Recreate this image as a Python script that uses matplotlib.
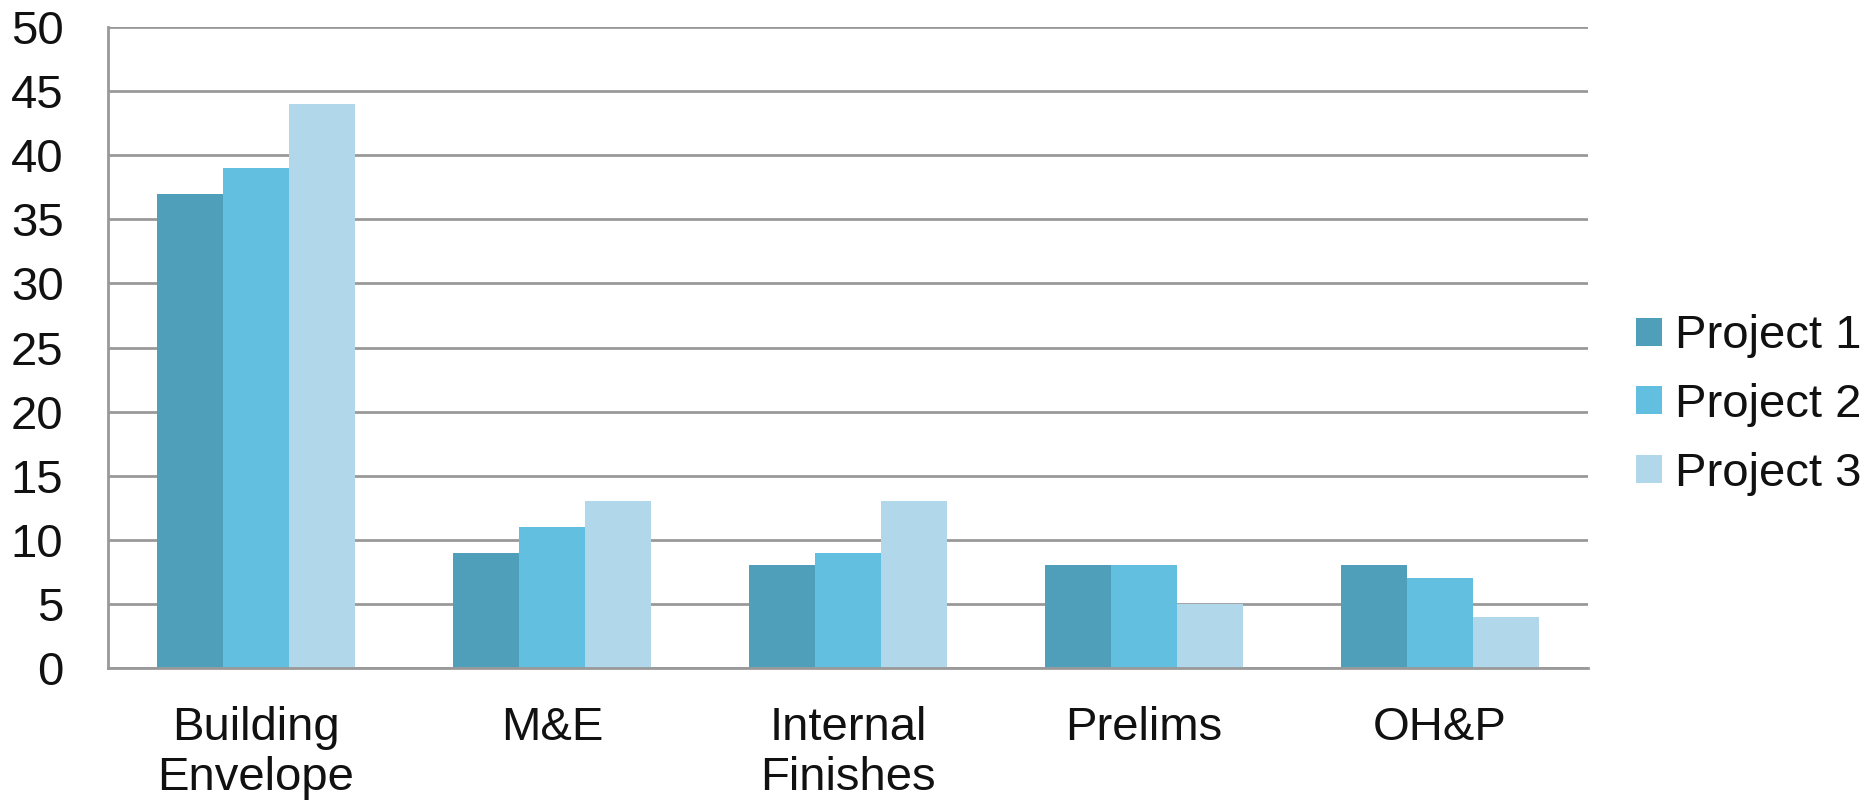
import numpy as np
import matplotlib.pyplot as plt
from matplotlib.patches import Patch

# Данные по категориям затрат
categories = ['Building\nEnvelope', 'M&E', 'Internal\nFinishes', 'Prelims', 'OH&P']
projects = ['Project 1', 'Project 2', 'Project 3']
project1 = [37, 9, 8, 8, 8]
project2 = [39, 11, 9, 8, 7]
project3 = [44, 13, 13, 5, 4]
colors = ['#4f9fba', '#62bfe0', '#b0d8ea']

plt.rcParams['font.family'] = ['Liberation Sans', 'DejaVu Sans']

fig = plt.figure(figsize=(18.74, 8.06), dpi=100)
ax = fig.add_axes([0.0576, 0.1712, 0.7898, 0.7953])

x = np.arange(len(categories))
width = 0.222
for i, (vals, col) in enumerate(zip([project1, project2, project3], colors)):
    ax.bar(x + (i - 1) * width, vals, width, color=col, linewidth=0, zorder=2)

ax.set_xlim(-0.5, len(categories) - 0.5)
ax.set_ylim(0, 50)
ax.set_yticks(np.arange(0, 51, 5))
ax.set_xticks(x)
ax.set_xticklabels(categories, linespacing=1.2)

# Сетка и оси
ax.yaxis.grid(True, color='#999999', linewidth=2, zorder=0)
ax.set_axisbelow(True)
for side in ['top', 'right']:
    ax.spines[side].set_visible(False)
for side in ['left', 'bottom']:
    ax.spines[side].set_color('#999999')
    ax.spines[side].set_linewidth(2)
ax.tick_params(axis='both', length=0, labelsize=34, colors='#111111')
ax.tick_params(axis='y', pad=32)
ax.tick_params(axis='x', pad=27)

handles = [Patch(facecolor=c, linewidth=0) for c in colors]
fig.legend(handles, projects, loc='center left', bbox_to_anchor=(0.873, 0.4975),
           frameon=False, fontsize=34, borderpad=0, borderaxespad=0,
           handlelength=0.54, handleheight=0.54, handletextpad=0.28,
           labelspacing=0.52, labelcolor='#111111')

plt.savefig('out.png', dpi=100)
